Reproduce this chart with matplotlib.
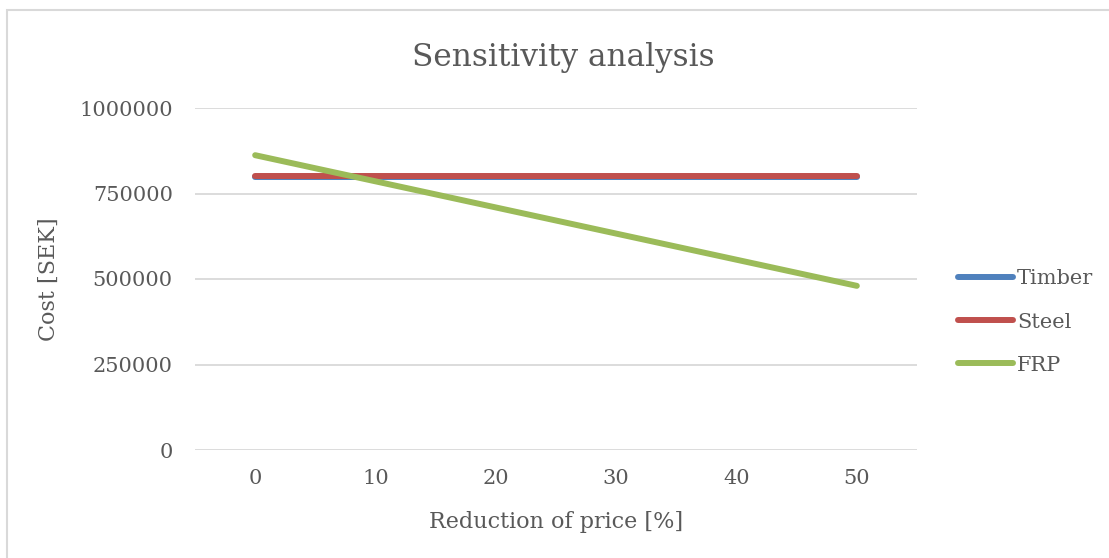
import numpy as np
import matplotlib.pyplot as plt
from matplotlib.lines import Line2D

# price reduction levels [%] and total cost [SEK] per material
reduction = ['0', '10', '20', '30', '40', '50']
timber = [798000, 798000, 798000, 798000, 798000, 798000]
steel = [800000, 800000, 800000, 800000, 800000, 800000]
frp = [862000, 785600, 709200, 632800, 556400, 480000]

txt = '#595959'
plt.rcParams['font.family'] = ['DejaVu Serif']

fig = plt.figure(figsize=(11.09, 5.58), dpi=100)
ax = fig.add_axes([195/1109, 1 - 450/558, 722/1109, 342/558])

x = np.arange(len(reduction))
series = [('Timber', timber, '#4F81BD'),
          ('Steel', steel, '#C0504D'),
          ('FRP', frp, '#9BBB59')]
for name, vals, col in series:
    ax.plot(x, vals, color=col, lw=4.3, solid_capstyle='round', label=name)

ax.set_xlim(-0.5, len(reduction) - 0.5)
ax.set_ylim(0, 1000000)
ax.set_xticks(x)
ax.set_xticklabels(reduction)
ax.set_yticks([0, 250000, 500000, 750000, 1000000])
ax.set_yticklabels(['0', '250000', '500000', '750000', '1000000'])
ax.tick_params(length=0, labelsize=15, colors=txt)
ax.tick_params(axis='x', pad=14)
ax.tick_params(axis='y', pad=16)
ax.grid(axis='y', color='#D9D9D9', lw=1.3)
ax.set_axisbelow(True)
for s in ax.spines.values():
    s.set_visible(False)

ax.set_title('Sensitivity analysis', fontsize=22.5, color=txt, pad=30,
             x=(563 - 195) / 722)
ax.set_xlabel('Reduction of price [%]', fontsize=16, color=txt, labelpad=16)
ax.set_ylabel('Cost [SEK]', fontsize=16, color=txt, labelpad=14)

handles = [Line2D([], [], color=c, lw=4.3, solid_capstyle='round') for _, _, c in series]
fig.legend(handles, [n for n, _, _ in series], loc='center left',
           bbox_to_anchor=(939/1109, 1 - 322/558), frameon=False,
           fontsize=15, labelcolor=txt, handlelength=2.65, handletextpad=0.2,
           labelspacing=1.16)

# outer chart frame
fig.add_artist(plt.Rectangle((7/1109, -0.1), 1.5, 1 - 10/558 + 0.1,
                             transform=fig.transFigure, fill=False,
                             edgecolor='#D9D9D9', lw=1.5))

fig.savefig('out.png', dpi=100)
